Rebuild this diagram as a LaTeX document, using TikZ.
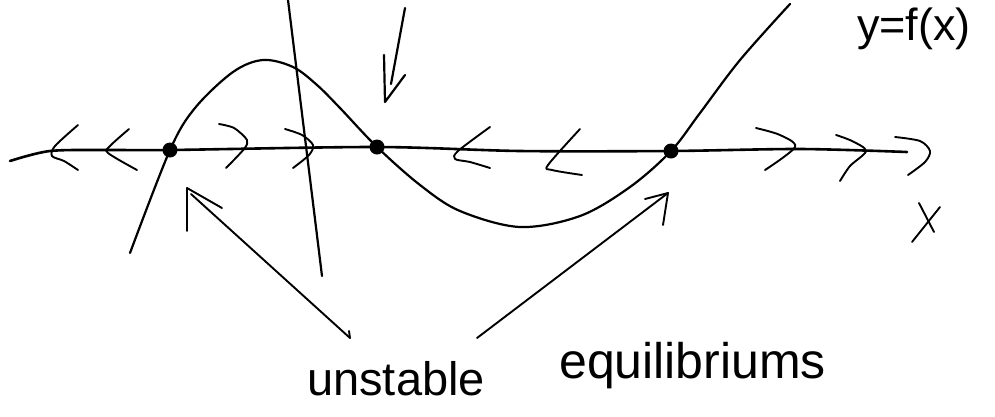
\documentclass[tikz,border=0pt]{standalone}
\usepackage{fontspec}
\setmainfont{Liberation Sans}
\begin{document}
\begin{tikzpicture}[x=1pt,y=-1pt,
  axisline/.style={line width=2.6pt, line cap=round, line join=round},
  pen/.style={line width=2.2pt, line cap=round, line join=round},
  thinpen/.style={line width=1.9pt, line cap=round, line join=round},
  dotmark/.style={circle, fill=black, inner sep=0pt, minimum size=15pt},
  hand/.style={font=\fontsize{47}{50}\selectfont, inner sep=0pt, anchor=base west},
  eqn/.style={font=\fontsize{45}{48}\selectfont, inner sep=0pt, anchor=base west}]
\useasboundingbox (0,0) rectangle (995,416);
\fill[white] (0,0) rectangle (995,416);

% equilibrium points
\node[dotmark] (d1) at (170,150) {};
\node[dotmark] (d2) at (377,147) {};
\node[dotmark] (d3) at (671,151) {};

% axis
\coordinate (axL) at (10,161);
\coordinate (axR) at (907,152);
\draw[axisline] plot[smooth, tension=0.5] coordinates {(axL) (50,151) (110,150) (d1.center) (d2.center) (520,151) (d3.center) (800,149) (axR)};

% curve y=f(x)
\draw[pen] plot[smooth, tension=0.55] coordinates {(130,253) (d1.center) (195,108) (233,72) (263,60) (293,67) (317,85) (340,108) (d2.center) (420,185) (460,211) (520,227) (580,216) (630,187) (d3.center) (700,113) (740,60) (790,4)};

% vertical line
\coordinate (vt) at (288,0);
\coordinate (vb) at (322,276);
\draw[pen] (vt) -- (vb);

% top down arrow
\coordinate (ta) at (405,8);
\coordinate (tb) at (391,84);
\coordinate (th) at (385,102);
\draw[pen] (ta) -- (tb);
\draw[pen] (384,55) -- (th) -- (405,75);

% flow chevrons
\draw[thinpen] plot[smooth, tension=0.5] coordinates {(78,125) (55,146) (52,156) (64,161) (78,170)};
\draw[thinpen] plot[smooth, tension=0.5] coordinates {(129,129) (110,146) (108,153) (137,170)};
\draw[thinpen] plot[smooth, tension=0.5] coordinates {(219,124) (234,128) (247,140) (244,149) (226,168)};
\draw[thinpen] plot[smooth, tension=0.5] coordinates {(285,129) (302,135) (313,145) (309,155) (293,168)};
\draw[thinpen] plot[smooth, tension=0.5] coordinates {(490,127) (458,151) (455,159) (470,162) (490,168)};
\draw[thinpen] plot[smooth, tension=0.5] coordinates {(580,129) (548,165) (552,170) (582,175)};
\draw[thinpen] plot[smooth, tension=0.5] coordinates {(756,128) (780,135) (795,147) (765,170)};
\draw[thinpen] plot[smooth, tension=0.5] coordinates {(836,135) (852,141) (866,151) (850,166) (840,181)};
\draw[thinpen] plot[smooth, tension=0.5] coordinates {(895,137) (920,141) (930,151) (925,162) (908,175)};

% axis label
\draw[thinpen] (919,203) -- (934,232);
\draw[thinpen] (940,207) -- (912,242);

% curve label
\node[eqn] (fx) at (857,40) {y=f(x)};

% labels
\node[hand] (un) at (307,395) {unstable};
\node[hand, font=\fontsize{50}{54}\selectfont] (eq) at (559,378) {equilibriums};

% pointer arrows
\coordinate (ua) at (350,338);
\coordinate (h1) at (187,188);
\draw[thinpen] (ua) -- (191,194);
\draw[thinpen] (187,231) -- (h1) -- (222,208);
\draw[thinpen] (ua) -- (349,331);

\coordinate (ub) at (477,338);
\coordinate (h2) at (668,193);
\draw[thinpen] (ub) -- (h2);
\draw[thinpen] (645,199) -- (h2) -- (663,225);
\end{tikzpicture}
\end{document}
